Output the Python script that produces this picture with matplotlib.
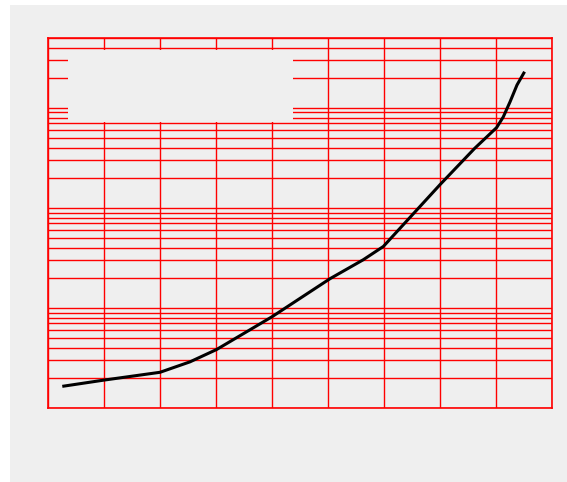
import matplotlib
matplotlib.use("Agg")
import matplotlib.pyplot as plt
from matplotlib.patches import Rectangle

# data (log-scale y)
x_vals = [0.255, 1.0, 2.0, 2.536, 3.012, 4.0, 5.036, 5.63, 5.988,
          7.0, 7.62, 8.012, 8.13, 8.25, 8.375, 8.51]
y_vals = [1.646, 1.901, 2.275, 2.894, 3.847, 8.17, 19.62, 30.35, 41.18,
          170.9, 394.7, 636.6, 813, 1148, 1695, 2300]
x_ticks = list(range(0, 10))
x_limits = (0, 9)
y_limits = (1, 5000)

BG = "#efefef"
RED = "#ff0000"

fig = plt.figure(figsize=(5.67, 4.82), dpi=100)
fig.patch.set_facecolor("white")
fig.patches.append(Rectangle((10 / 567, 0), 1 - 10 / 567, 1 - 5 / 482,
                             transform=fig.transFigure, facecolor=BG,
                             edgecolor="none", zorder=-5))

ax = fig.add_axes([48 / 567, (482 - 408) / 482, 504 / 567, 370 / 482])
ax.set_zorder(2)
ax.set_facecolor(BG)
ax.set_yscale("log")
ax.set_xlim(*x_limits)
ax.set_ylim(*y_limits)
ax.set_xticks(x_ticks)
ax.set_axisbelow(True)
ax.grid(True, which="major", axis="both", color=RED, linewidth=1.0)
ax.grid(True, which="minor", axis="y", color=RED, linewidth=1.0)
ax.tick_params(which="both", length=0, labelleft=False, labelbottom=False)
for s in ax.spines.values():
    s.set_color(RED)
    s.set_linewidth(1.2)

# empty legend box
ax.add_patch(Rectangle((20 / 504, (408 - 121.5) / 370), 225 / 504, 72 / 370,
                       transform=ax.transAxes, facecolor=BG, edgecolor="none",
                       zorder=1))

ax.plot(x_vals, y_vals, color="black", linewidth=2.2, zorder=3,
        solid_capstyle="butt", solid_joinstyle="round")

fig.savefig("out.png", dpi=100)
